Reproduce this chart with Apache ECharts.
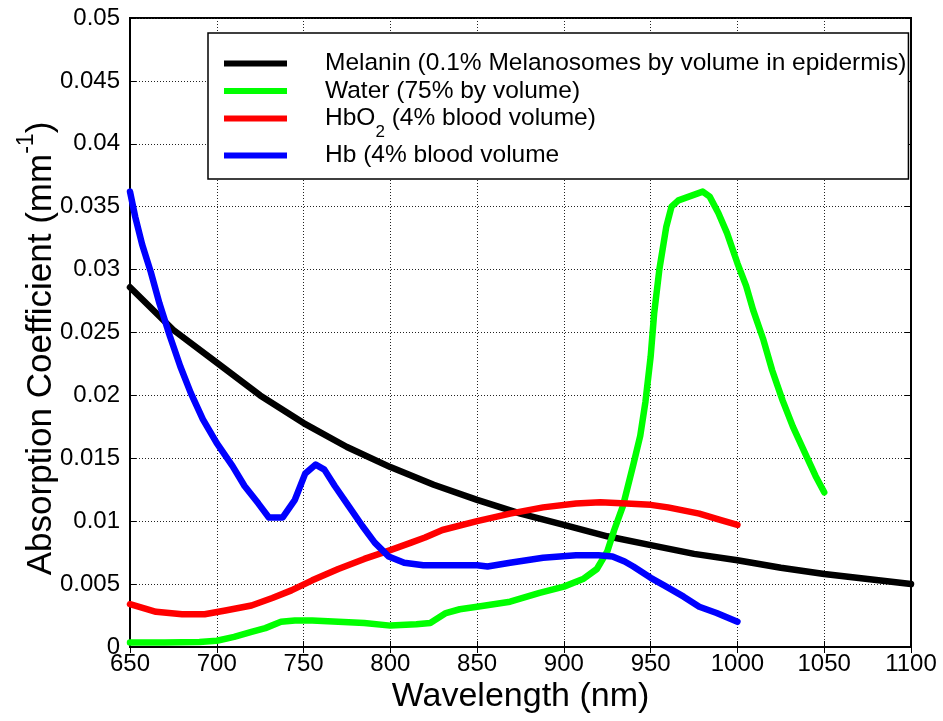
<!DOCTYPE html>
<html>
<head>
<meta charset="utf-8">
<script src="https://cdn.jsdelivr.net/npm/echarts@6/dist/echarts.min.js"></script>
<style>html,body{margin:0;padding:0;background:#fff}#c{width:943px;height:721px}</style>
</head>
<body>
<div id="c"></div>
<script>
// ---- data ----
const xTicks = [650, 700, 750, 800, 850, 900, 950, 1000, 1050, 1100];
const yTickLabels = ['0', '0.005', '0.01', '0.015', '0.02', '0.025', '0.03', '0.035', '0.04', '0.045', '0.05'];

const melaninX = [650, 675, 700, 725, 750, 775, 800, 825, 850, 875, 900, 925, 950, 975, 1000, 1025, 1050, 1075, 1100];
const melaninY = [0.0286, 0.0252, 0.0226, 0.0200, 0.0178, 0.0159, 0.0143, 0.0129, 0.0117, 0.0106, 0.0097, 0.0088, 0.0081, 0.0074, 0.0069, 0.0063, 0.0058, 0.0054, 0.0050];

const waterX = [650, 670, 690, 700, 710, 720, 728, 737, 745, 755, 770, 785, 800, 815, 823, 832, 840, 850, 869, 886, 900, 911, 919, 925, 929, 934, 940, 944, 947, 950, 952, 955, 959, 962, 966, 980, 984, 989, 994, 1000, 1005, 1009, 1015, 1020, 1026, 1032, 1040, 1045, 1050];
const waterY = [0.00035, 0.00035, 0.0004, 0.0005, 0.0008, 0.0012, 0.0015, 0.0020, 0.0021, 0.0021, 0.0020, 0.0019, 0.0017, 0.0018, 0.0019, 0.0027, 0.0030, 0.0032, 0.0036, 0.0043, 0.0048, 0.0054, 0.0062, 0.0076, 0.0093, 0.0112, 0.0145, 0.0168, 0.0195, 0.0231, 0.0265, 0.0300, 0.0334, 0.0350, 0.0355, 0.0362, 0.0358, 0.0345, 0.0329, 0.0305, 0.0287, 0.0268, 0.0244, 0.0220, 0.0196, 0.0175, 0.0151, 0.0136, 0.0123];

const hbo2X = [650, 665, 680, 693, 705, 720, 732, 743, 755, 770, 785, 800, 812, 820, 830, 850, 869, 888, 907, 921, 936, 950, 960, 978, 990, 1000];
const hbo2Y = [0.0034, 0.0028, 0.0026, 0.0026, 0.0029, 0.0033, 0.0039, 0.0045, 0.0053, 0.0062, 0.0070, 0.0077, 0.0083, 0.0087, 0.0093, 0.0100, 0.0106, 0.0111, 0.0114, 0.0115, 0.0114, 0.0113, 0.0111, 0.0106, 0.0101, 0.0097];

const hbX = [650, 653, 657, 662, 667, 673, 679, 685, 692, 700, 709, 716, 724, 730, 738, 745, 751, 757, 762, 768, 776, 784, 791, 799, 808, 819, 850, 856, 869, 888, 907, 920, 928, 935, 940, 950, 959, 969, 978, 988, 1000];
const hbY = [0.0362, 0.0342, 0.0320, 0.0298, 0.0273, 0.0247, 0.0223, 0.0202, 0.0181, 0.0162, 0.0144, 0.0128, 0.0114, 0.0103, 0.0103, 0.0117, 0.0138, 0.0145, 0.0141, 0.0128, 0.0112, 0.0096, 0.0083, 0.0072, 0.0067, 0.0065, 0.0065, 0.0064, 0.0067, 0.0071, 0.0073, 0.0073, 0.0072, 0.0068, 0.0064, 0.0055, 0.0048, 0.0040, 0.0032, 0.0027, 0.0020];

const seriesNames = ['Melanin', 'Water', 'HbO2', 'Hb'];
const legendTexts = {
  'Melanin': '{n|Melanin (0.1% Melanosomes by volume in epidermis)}',
  'Water': '{n|Water (75% by volume)}',
  'HbO2': '{n|HbO}{sub|2}{n| (4% blood volume)}',
  'Hb': '{n|Hb (4% blood volume}'
};

const zip = (xs, ys) => xs.map((x, i) => [x, ys[i]]);
const FONT = "'Liberation Sans', Arial, sans-serif";

const chart = echarts.init(document.getElementById('c'), null, {renderer: 'canvas'});
const mkSeries = (name, xs, ys, color) => ({
  name: name, type: 'line', data: zip(xs, ys), showSymbol: false, symbol: 'none',
  lineStyle: {color: color, width: 6.5, cap: 'round', join: 'round'},
  itemStyle: {color: color}, animation: false, clip: true
});

chart.setOption({
  animation: false,
  grid: {left: 130, right: 32, top: 18, bottom: 74, containLabel: false, outerBoundsMode: 'none',
    show: true, borderColor: '#000', borderWidth: 2, backgroundColor: '#fff'},
  xAxis: [{
    type: 'value', min: 650, max: 1100, interval: 50, position: 'bottom',
    name: 'Wavelength (nm)', nameLocation: 'middle', nameGap: 33, nameMoveOverlap: false,
    nameTextStyle: {fontFamily: FONT, fontSize: 34, color: '#000'},
    axisLine: {show: true, lineStyle: {color: '#000', width: 2}},
    axisTick: {show: true, inside: true, length: 6, lineStyle: {color: '#000'}},
    axisLabel: {fontFamily: FONT, fontSize: 24, color: '#000', margin: 5,
      formatter: v => xTicks.indexOf(v) >= 0 ? String(v) : ''},
    splitLine: {show: true, lineStyle: {color: '#222', type: [1, 2], width: 1}}
  }, {
    type: 'value', min: 650, max: 1100, interval: 50, position: 'top',
    axisLine: {show: true, lineStyle: {color: '#000', width: 2}},
    axisTick: {show: true, inside: true, length: 6, lineStyle: {color: '#000'}},
    axisLabel: {show: false}, splitLine: {show: false}
  }],
  yAxis: [{
    type: 'value', min: 0, max: 0.05, interval: 0.005, position: 'left',
    name: '{n|Absorption Coefficient (mm}{sup|-1}{n|)}', nameLocation: 'middle', nameGap: 71, nameRotate: 90,
    nameMoveOverlap: false,
    nameTextStyle: {fontFamily: FONT, fontSize: 35, color: '#000', padding: [0, 32, 0, 0],
      rich: {
        n: {fontFamily: FONT, fontSize: 35, color: '#000', verticalAlign: 'top', padding: [9, 0, 0, 0]},
        sup: {fontFamily: FONT, fontSize: 23, color: '#000', verticalAlign: 'top'}
      }},
    axisLine: {show: true, lineStyle: {color: '#000', width: 2}},
    axisTick: {show: true, inside: true, length: 6, lineStyle: {color: '#000'}},
    axisLabel: {fontFamily: FONT, fontSize: 24, color: '#000', margin: 10,
      formatter: v => yTickLabels[Math.round(v / 0.005)]},
    splitLine: {show: true, lineStyle: {color: '#222', type: [1, 2], width: 1}}
  }, {
    type: 'value', min: 0, max: 0.05, interval: 0.005, position: 'right',
    axisLine: {show: true, lineStyle: {color: '#000', width: 2}},
    axisTick: {show: true, inside: true, length: 6, lineStyle: {color: '#000'}},
    axisLabel: {show: false}, splitLine: {show: false}
  }],
  legend: {
    show: true, orient: 'vertical', left: 208, top: 33,
    data: seriesNames.map(n => ({name: n, icon: 'rect'})),
    itemWidth: 63, itemHeight: 6, itemGap: 2.5,
    padding: [18, 2, 11, 16],
    backgroundColor: '#fff', borderColor: '#000', borderWidth: 1.5,
    selectedMode: false,
    formatter: n => legendTexts[n],
    textStyle: {
      fontFamily: FONT, fontSize: 24.5, color: '#000', padding: [0, 0, 0, 33],
      rich: {
        n: {fontFamily: FONT, fontSize: 24.5, color: '#000', lineHeight: 25},
        sub: {fontFamily: FONT, fontSize: 17, color: '#000', height: 2, lineHeight: 10, verticalAlign: 'top', padding: [25, 0, 0, 0]}
      }
    }
  },
  series: [
    mkSeries('Melanin', melaninX, melaninY, '#000000'),
    mkSeries('Water', waterX, waterY, '#00ff00'),
    mkSeries('HbO2', hbo2X, hbo2Y, '#ff0000'),
    mkSeries('Hb', hbX, hbY, '#0000ff')
  ]
});
</script>
</body>
</html>
